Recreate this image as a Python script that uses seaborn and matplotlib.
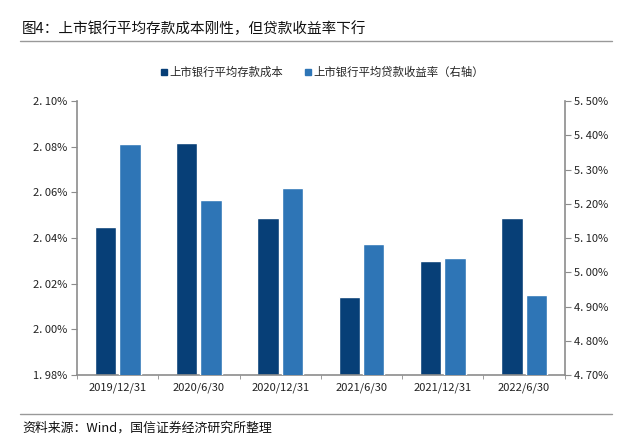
import numpy as np
import pandas as pd
import matplotlib
matplotlib.use("Agg")
import matplotlib.pyplot as plt
import seaborn as sns
from matplotlib.lines import Line2D
from matplotlib.ticker import FixedLocator, FuncFormatter

# data
dates = ['2019/12/31', '2020/6/30', '2020/12/31', '2021/6/30', '2021/12/31', '2022/6/30']
deposit_cost = [2.045, 2.0815, 2.0487, 2.014, 2.030, 2.0487]   # left axis, %
loan_yield = [5.374, 5.211, 5.245, 5.082, 5.041, 4.934]        # right axis, %
s1 = '上市银行平均存款成本'
s2 = '上市银行平均贷款收益率（右轴）'
left_ticks = [1.98, 2.00, 2.02, 2.04, 2.06, 2.08, 2.10]
right_ticks = [4.70, 4.80, 4.90, 5.00, 5.10, 5.20, 5.30, 5.40, 5.50]

dark = '#073F77'
light = '#2E75B6'
spine_c = '#8C8C8C'

sns.set_style('white')
plt.rcParams['font.family'] = ['Noto Sans CJK SC', 'DejaVu Sans']

# each axis gets its own series, the other slot is 0 (below the view) so dodge stays aligned
df = pd.DataFrame({
    'date': dates * 2,
    'series': [s1] * 6 + [s2] * 6,
    'left': deposit_cost + [0.0] * 6,
    'right': [0.0] * 6 + loan_yield,
})
pal = {s1: dark, s2: light}

fig = plt.figure(figsize=(6.31, 4.44), dpi=100)
ax = fig.add_axes([0.122, 0.155, 0.773, 0.6175])
ax2 = ax.twinx()

sns.barplot(data=df, x='date', y='left', hue='series', hue_order=[s1, s2], palette=pal,
            order=dates, width=0.6, gap=0.12, errorbar=None, legend=False, ax=ax,
            saturation=1)
sns.barplot(data=df, x='date', y='right', hue='series', hue_order=[s1, s2], palette=pal,
            order=dates, width=0.6, gap=0.12, errorbar=None, legend=False, ax=ax2,
            saturation=1)

ax.set_ylim(1.98, 2.10)
ax2.set_ylim(4.70, 5.50)
ax.set_xlim(-0.5, 5.5)
ax.yaxis.set_major_locator(FixedLocator(left_ticks))
ax2.yaxis.set_major_locator(FixedLocator(right_ticks))
ax.yaxis.set_major_formatter(FuncFormatter(lambda v, p: f'{v:.2f}%'.replace('.', '. ')))
ax2.yaxis.set_major_formatter(FuncFormatter(lambda v, p: f'{v:.2f}%'.replace('.', '. ')))
ax.set_xlabel('')
ax.set_ylabel('')
ax2.set_ylabel('')

for a in (ax, ax2):
    a.spines['top'].set_visible(False)
    for side in ('left', 'right', 'bottom'):
        a.spines[side].set_color(spine_c)
        a.spines[side].set_linewidth(1.2)
ax.spines['right'].set_visible(False)
ax2.spines['left'].set_visible(False)
ax2.spines['bottom'].set_visible(False)

ax.tick_params(axis='y', length=4, color=spine_c, labelsize=8, labelcolor='#222222', pad=3, left=True)
ax2.tick_params(axis='y', length=4, color=spine_c, labelsize=8, labelcolor='#222222', pad=3, right=True)
ax.tick_params(axis='x', which='major', length=0, labelsize=8, labelcolor='#222222', pad=5)
ax.set_xticks(np.arange(-0.5, 6, 1), minor=True)
ax.tick_params(axis='x', which='minor', length=3, color=spine_c, bottom=True)

# legend
handles = [Line2D([], [], marker='s', ls='', color=dark, markersize=4),
           Line2D([], [], marker='s', ls='', color=light, markersize=4)]
fig.legend(handles, [s1, s2], loc='center', bbox_to_anchor=(0.51, 0.838), ncol=2,
           frameon=False, fontsize=8.2, handletextpad=0.1, columnspacing=1.8,
           handlelength=0.8)

# title, rules and source
fig.text(0.035, 0.935, '图4：上市银行平均存款成本刚性，但贷款收益率下行', fontsize=10.5,
         va='center', ha='left', color='#111111')
fig.add_artist(Line2D([0.032, 0.97], [0.908, 0.908], color='#999999', lw=1))
fig.add_artist(Line2D([0.032, 0.97], [0.068, 0.068], color='#999999', lw=1))
fig.text(0.035, 0.036, '资料来源：Wind，国信证券经济研究所整理', fontsize=9.3,
         va='center', ha='left', color='#111111')

fig.savefig('out.png', dpi=100)
